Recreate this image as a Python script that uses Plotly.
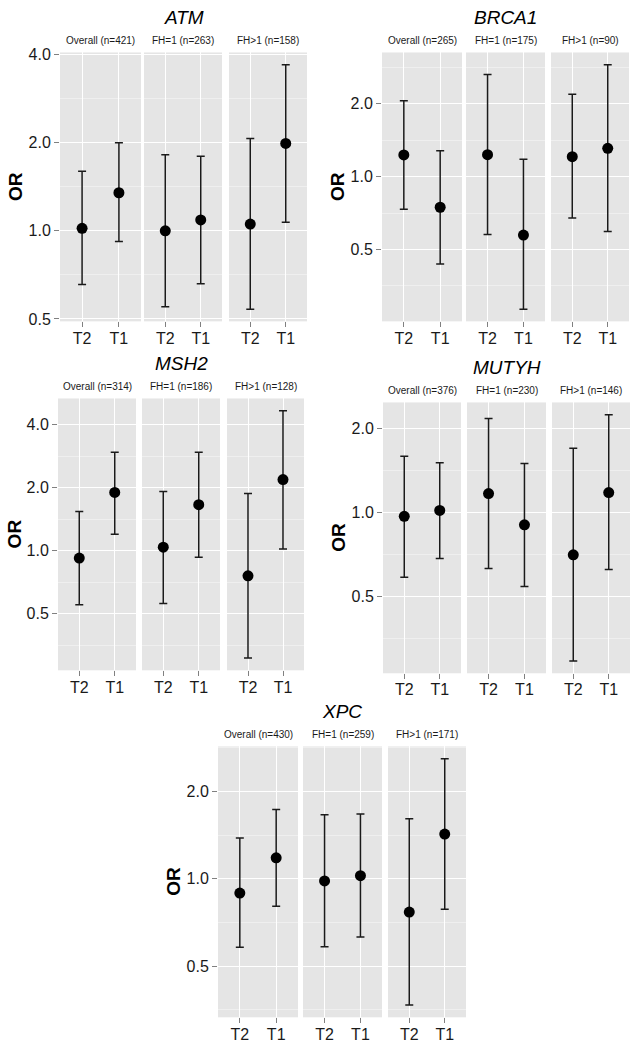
import math
import plotly.graph_objects as go

# ---------------- data ----------------
genes = ["ATM", "BRCA1", "MSH2", "MUTYH", "XPC"]
groups = ["Overall", "FH=1", "FH>1"]
tertiles = ["T2", "T1"]

n_ATM = [421, 263, 158]
n_BRCA1 = [265, 175, 90]
n_MSH2 = [314, 186, 128]
n_MUTYH = [376, 230, 146]
n_XPC = [430, 259, 171]

# per gene: [Overall T2, Overall T1, FH=1 T2, FH=1 T1, FH>1 T2, FH>1 T1]
or_ATM = [1.02, 1.35, 1.00, 1.09, 1.055, 1.99]
lo_ATM = [0.655, 0.92, 0.55, 0.66, 0.54, 1.07]
hi_ATM = [1.60, 2.00, 1.82, 1.80, 2.07, 3.70]

or_BRCA1 = [1.23, 0.748, 1.233, 0.574, 1.21, 1.31]
lo_BRCA1 = [0.734, 0.436, 0.577, 0.284, 0.675, 0.594]
hi_BRCA1 = [2.06, 1.28, 2.64, 1.18, 2.19, 2.90]

or_MSH2 = [0.923, 1.90, 1.04, 1.66, 0.759, 2.19]
lo_MSH2 = [0.551, 1.20, 0.559, 0.93, 0.307, 1.02]
hi_MSH2 = [1.54, 2.96, 1.92, 2.96, 1.88, 4.67]

or_MUTYH = [0.971, 1.019, 1.17, 0.905, 0.707, 1.18]
lo_MUTYH = [0.588, 0.686, 0.631, 0.545, 0.295, 0.626]
hi_MUTYH = [1.59, 1.51, 2.17, 1.50, 1.70, 2.24]

or_XPC = [0.892, 1.18, 0.982, 1.024, 0.767, 1.425]
lo_XPC = [0.58, 0.803, 0.583, 0.629, 0.367, 0.785]
hi_XPC = [1.38, 1.73, 1.66, 1.67, 1.61, 2.59]

y_tickvals = [0.5, 1, 2, 4]
y_ticktext = ["0.5", "1.0", "2.0", "4.0"]
y_minorvals = [0.354, 0.707, 1.414, 2.828, 5.657]

data = {
    "ATM": (n_ATM, or_ATM, lo_ATM, hi_ATM),
    "BRCA1": (n_BRCA1, or_BRCA1, lo_BRCA1, hi_BRCA1),
    "MSH2": (n_MSH2, or_MSH2, lo_MSH2, hi_MSH2),
    "MUTYH": (n_MUTYH, or_MUTYH, lo_MUTYH, hi_MUTYH),
    "XPC": (n_XPC, or_XPC, lo_XPC, hi_XPC),
}

# ---------------- layout (pixel geometry) ----------------
W, H = 633, 1050
panel_x = {
    "ATM": [(60, 141), (144, 222), (229, 307)],
    "BRCA1": [(382, 462), (466, 545), (551, 629)],
    "MSH2": [(58, 136), (142, 220), (227, 304)],
    "MUTYH": [(383, 461), (467, 546), (552, 630)],
    "XPC": [(218, 298), (303, 382), (388, 466)],
}
panel_y = {
    "ATM": (47, 319),
    "BRCA1": (47, 319),
    "MSH2": (397, 672),
    "MUTYH": (401, 675),
    "XPC": (749, 1023),
}

FONT = "Liberation Sans, Arial, Helvetica, sans-serif"
INK = "#1a1a1a"

def px_x(p):
    return p / W

def px_y(p):
    return 1 - p / H

fig = go.Figure()
layout = {}
annotations = []

idx = 0
for gene in genes:
    ns, ors, los, his = data[gene]
    lmin = math.log10(min(los))
    lmax = math.log10(max(his))
    pad = 0.05 * (lmax - lmin)
    yrange = [lmin - pad, lmax + pad]
    y0, y1 = panel_y[gene]
    for f, grp in enumerate(groups):
        idx += 1
        xa = "x" if idx == 1 else f"x{idx}"
        ya = "y" if idx == 1 else f"y{idx}"
        xkey = "xaxis" if idx == 1 else f"xaxis{idx}"
        ykey = "yaxis" if idx == 1 else f"yaxis{idx}"
        vals = ors[2 * f:2 * f + 2]
        lo = los[2 * f:2 * f + 2]
        hi = his[2 * f:2 * f + 2]
        fig.add_trace(go.Scatter(
            x=tertiles, y=vals, xaxis=xa, yaxis=ya, mode="markers",
            marker=dict(color="black", size=11),
            error_y=dict(type="data", symmetric=False,
                         array=[h - v for h, v in zip(hi, vals)],
                         arrayminus=[v - l for v, l in zip(vals, lo)],
                         color=INK, thickness=1.5, width=4),
            showlegend=False, hoverinfo="x+y",
        ))
        xl, xr = panel_x[gene][f]
        layout[xkey] = dict(
            domain=[px_x(xl), px_x(xr)], anchor=ya,
            type="category", categoryorder="array", categoryarray=tertiles,
            range=[-0.6, 1.6], showgrid=True, gridcolor="white", gridwidth=1.2,
            zeroline=False, showline=False, ticks="outside", ticklen=5,
            tickcolor="#808080", tickwidth=1, ticklabelstandoff=-3,
            tickfont=dict(family=FONT, size=16, color=INK), fixedrange=True,
        )
        layout[ykey] = dict(
            domain=[px_y(y1), px_y(y0)], anchor=xa, type="log", range=yrange,
            tickmode="array", tickvals=y_tickvals, ticktext=y_ticktext,
            showgrid=True, gridcolor="white", gridwidth=1.2,
            zeroline=False, showline=False,
            ticks="outside" if f == 0 else "", ticklen=5, tickcolor="#808080",
            showticklabels=(f == 0),
            tickfont=dict(family=FONT, size=16, color=INK),
            minor=dict(tickmode="array", tickvals=y_minorvals, showgrid=True,
                       gridcolor="#efefef", gridwidth=0.6, ticks=""),
            fixedrange=True,
        )
        # strip label
        annotations.append(dict(
            text=f"{grp} (n={ns[f]})", x=px_x((xl + xr) / 2), y=px_y(y0 - 12),
            xref="paper", yref="paper", showarrow=False,
            xanchor="center", yanchor="middle",
            font=dict(family=FONT, size=10, color=INK),
        ))
    xs = panel_x[gene]
    # gene title
    annotations.append(dict(
        text=f"<i>{gene}</i>", x=px_x((xs[0][0] + xs[2][1]) / 2), y=px_y(y0 - 35),
        xref="paper", yref="paper", showarrow=False,
        xanchor="center", yanchor="middle",
        font=dict(family=FONT, size=19, color="black"),
    ))
    # y axis title
    annotations.append(dict(
        text="<b>OR</b>", x=px_x(xs[0][0] - 44), y=px_y((y0 + y1) / 2),
        xref="paper", yref="paper", showarrow=False, textangle=-90,
        xanchor="center", yanchor="middle",
        font=dict(family=FONT, size=19, color="black"),
    ))

fig.update_layout(
    width=W, height=H, margin=dict(l=0, r=0, t=0, b=0),
    paper_bgcolor="white", plot_bgcolor="#e5e5e5",
    font=dict(family=FONT, color=INK),
    annotations=annotations, showlegend=False,
    **layout,
)

fig.write_html("out.html", config={"displayModeBar": False},
               post_script="document.body.style.margin='0';")
